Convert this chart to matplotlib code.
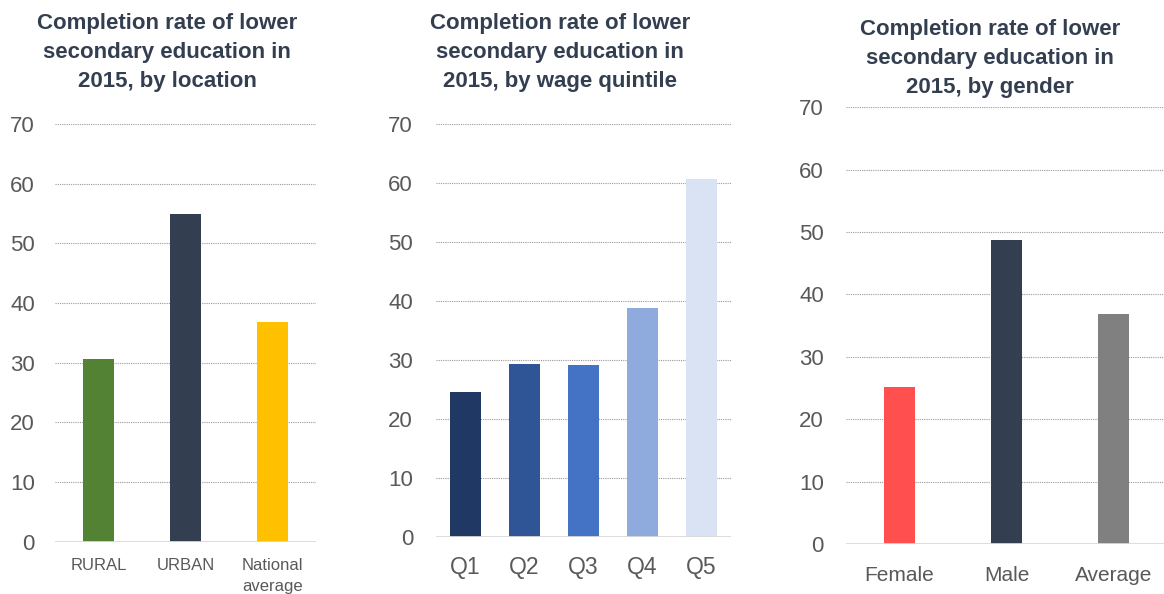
import matplotlib
matplotlib.use("Agg")
import matplotlib.pyplot as plt

plt.rcParams['font.family'] = ['Liberation Sans', 'DejaVu Sans']

# Completion rate (%) of lower secondary education, 2015
location_labels = ["RURAL", "URBAN", "National\naverage"]
location_values = [30.6, 54.9, 36.8]
location_colors = ["#548235", "#333F50", "#FFC000"]

quintile_labels = ["Q1", "Q2", "Q3", "Q4", "Q5"]
quintile_values = [24.5, 29.3, 29.1, 38.8, 60.7]
quintile_colors = ["#203864", "#2F5597", "#4472C4", "#8FAADC", "#DAE3F3"]

gender_labels = ["Female", "Male", "Average"]
gender_values = [25.2, 48.7, 36.9]
gender_colors = ["#FF4F4F", "#333F50", "#808080"]

yticks = [0, 10, 20, 30, 40, 50, 60, 70]

titles = [
    "Completion rate of lower\nsecondary education in\n2015, by location",
    "Completion rate of lower\nsecondary education in\n2015, by wage quintile",
    "Completion rate of lower\nsecondary education in\n2015, by gender",
]

W, H = 1164, 594
fig = plt.figure(figsize=(W / 100, H / 100), dpi=100)
fig.patch.set_facecolor("white")


def px_axes(x0, x1, ytop, ybot):
    return fig.add_axes([x0 / W, 1 - ybot / H, (x1 - x0) / W, (ybot - ytop) / H])


panels = [
    # (x0, x1, ytop, ybot, labels, values, colors, bar width, ytick size, xtick size, ypad, xpad)
    (55, 316, 124, 541.7, location_labels, location_values, location_colors, 0.345, 16, 12, 14.5, 12),
    (436, 731, 124, 536.7, quintile_labels, quintile_values, quintile_colors, 0.54, 16, 16.5, 16.5, 14),
    (846, 1167, 107.3, 544, gender_labels, gender_values, gender_colors, 0.29, 16, 15, 16, 15.5),
]

title_pos = [(167, 22), (560, 22), (990, 28)]

for (x0, x1, yt, yb, labels, values, colors, bw, ys, xs, ypad, xpad), title, (tx, ty) in zip(
        panels, titles, title_pos):
    ax = px_axes(x0, x1, yt, yb)
    pos = list(range(len(values)))
    for y in yticks[1:]:
        ax.axhline(y, color="#999999", lw=0.8, ls=(0, (1, 1)), zorder=1)
    ax.bar(pos, values, width=bw, color=colors, zorder=2)
    ax.axhline(0, color="#D9D9D9", lw=2, zorder=3)
    ax.set_xlim(-0.5, len(values) - 0.5)
    ax.set_ylim(0, 70)
    ax.set_yticks(yticks)
    ax.set_xticks(pos)
    ax.set_xticklabels(labels, linespacing=1.5)
    ax.tick_params(axis="y", length=0, pad=ypad, labelsize=ys, labelcolor="#595959")
    ax.tick_params(axis="x", length=0, pad=xpad, labelsize=xs, labelcolor="#595959")
    for s in ax.spines.values():
        s.set_visible(False)
    fig.text(tx / W, 1 - (ty - 8.5) / H, title, ha="center", va="top",
             fontsize=16, fontweight="bold", color="#333F50", linespacing=1.47)

fig.savefig("out.png", dpi=100)
